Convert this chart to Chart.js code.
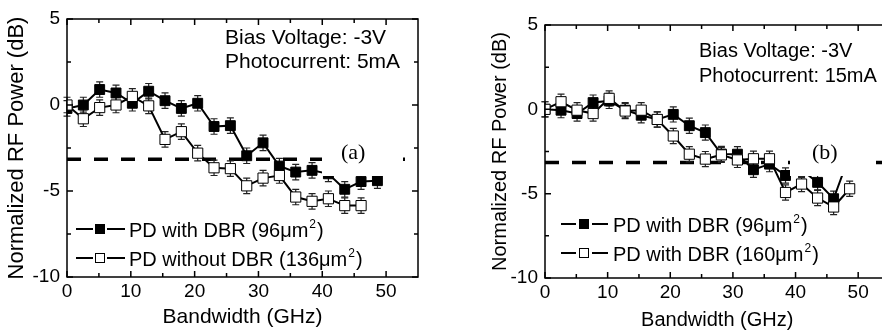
<!DOCTYPE html>
<html>
<head>
<meta charset="utf-8">
<script src="https://cdn.jsdelivr.net/npm/chart.js@4.4.0/dist/chart.umd.min.js"></script>
<style>
html, body { margin: 0; padding: 0; background: #fff; overflow: hidden; width: 882px; height: 332px; }
#wrapA { position: absolute; left: 0; top: 0; width: 441px; height: 332px; }
#wrapB { position: absolute; left: 441px; top: 0; width: 460px; height: 332px; }
</style>
</head>
<body>
<div id="wrapA"><canvas id="chartA" width="441" height="332"></canvas></div>
<div id="wrapB"><canvas id="chartB" width="460" height="332"></canvas></div>
<script>
// frequency points (GHz)
const xGHz = [0, 2.56, 5.12, 7.68, 10.24, 12.8, 15.36, 17.92, 20.48, 23.04, 25.6, 28.16, 30.72, 33.28, 35.84, 38.4, 40.96, 43.52, 46.08, 48.64];

// (a) 5mA
const aWithDBR96 = [-0.2, 0.0, 0.9, 0.7, 0.1, 0.8, 0.25, -0.2, 0.1, -1.25, -1.2, -2.95, -2.2, -3.55, -3.9, -3.8, -4.0, -4.9, -4.45, -4.4];
const aWithDBR96Err = [0.45, 0.45, 0.45, 0.45, 0.45, 0.45, 0.45, 0.45, 0.45, 0.45, 0.45, 0.45, 0.45, 0.45, 0.45, 0.45, 0.45, 0.45, 0.45, 0.45];
const aNoDBR136 = [0.0, -0.8, -0.15, 0.0, 0.5, -0.05, -2.0, -1.55, -2.8, -3.65, -3.7, -4.7, -4.25, -4.1, -5.35, -5.6, -5.45, -5.85, -5.85];
const aNoDBR136Err = [0.45, 0.45, 0.45, 0.45, 0.45, 0.45, 0.45, 0.45, 0.45, 0.45, 0.45, 0.45, 0.45, 0.45, 0.45, 0.45, 0.45, 0.45, 0.45];

// (b) 15mA
const bWithDBR96 = [0.0, -0.05, -0.25, 0.4, 0.5, -0.05, -0.35, -0.6, -0.3, -0.97, -1.38, -2.65, -2.66, -3.58, -3.25, -3.92, -3.6, -4.33, -5.3, -2.7];
const bWithDBR96Err = [0.45, 0.45, 0.45, 0.45, 0.45, 0.45, 0.45, 0.45, 0.45, 0.45, 0.45, 0.45, 0.45, 0.45, 0.45, 0.45, 0.45, 0.45, 0.45, 0.45];
const bWithDBR160 = [0.0, 0.45, -0.05, -0.25, 0.65, -0.1, -0.05, -0.6, -1.58, -2.66, -2.95, -2.7, -3.0, -2.93, -2.93, -4.93, -4.43, -5.26, -5.79, -4.71];
const bWithDBR160Err = [0.45, 0.45, 0.45, 0.45, 0.45, 0.45, 0.45, 0.45, 0.45, 0.45, 0.45, 0.45, 0.45, 0.45, 0.45, 0.45, 0.45, 0.45, 0.45, 0.45];

// axes
const xTicks = [0, 10, 20, 30, 40, 50];
const xMinorTicks = [5, 15, 25, 35, 45];
const yTicks = [-10, -5, 0, 5];
const yMinorTicks = [-7.5, -2.5, 2.5];
const cutoffDB = -3.15;

const sans = "'Liberation Sans', Arial, sans-serif";
const serif = "'Liberation Serif', 'Times New Roman', serif";

const toPts = (ys) => ys.map((y, i) => ({ x: xGHz[i], y: y }));

const decorPlugin = {
  id: 'decor',
  beforeDatasetsDraw(chart, args, o) {
    const ctx = chart.ctx, xs = chart.scales.x, ys = chart.scales.y, a = chart.chartArea;
    ctx.save();
    // -3dB dashed line
    ctx.strokeStyle = '#000';
    ctx.lineWidth = 3.5;
    ctx.setLineDash([14, 13]);
    ctx.beginPath();
    ctx.moveTo(a.left, ys.getPixelForValue(cutoffDB));
    ctx.lineTo(a.right, ys.getPixelForValue(cutoffDB));
    ctx.stroke();
    ctx.setLineDash([]);
    // error bars
    ctx.strokeStyle = '#222';
    ctx.lineWidth = 1.2;
    chart.data.datasets.forEach(ds => {
      ds.data.forEach((p, i) => {
        const e = ds.errors[i];
        const px = xs.getPixelForValue(p.x);
        const y1 = ys.getPixelForValue(p.y + e), y2 = ys.getPixelForValue(p.y - e);
        ctx.beginPath();
        ctx.moveTo(px, y1); ctx.lineTo(px, y2);
        ctx.moveTo(px - 3.5, y1); ctx.lineTo(px + 3.5, y1);
        ctx.moveTo(px - 3.5, y2); ctx.lineTo(px + 3.5, y2);
        ctx.stroke();
      });
    });
    ctx.restore();
  },
  afterDatasetsDraw(chart, args, o) {
    const ctx = chart.ctx, xs = chart.scales.x, ys = chart.scales.y, a = chart.chartArea;
    ctx.save();
    // white box behind the panel label
    ctx.fillStyle = '#fff';
    ctx.fillRect(o.box[0], o.box[1], o.box[2], o.box[3]);
    ctx.fillStyle = '#000';
    ctx.font = o.labelSize + 'px ' + serif;
    ctx.textBaseline = 'alphabetic';
    ctx.textAlign = 'left';
    ctx.fillText(o.panel, o.panelPos[0], o.panelPos[1]);

    // condition text
    ctx.font = o.textSize + 'px ' + sans;
    ctx.fillText(o.lines[0], o.textPos[0], o.textPos[1]);
    ctx.fillText(o.lines[1], o.textPos[0], o.textPos[1] + o.textGap);

    // legend
    o.legend.forEach((item, k) => {
      const ry = o.legRows[k];
      const L = o.legX;
      ctx.strokeStyle = '#000';
      ctx.lineWidth = 2;
      ctx.beginPath();
      ctx.moveTo(L[0], ry); ctx.lineTo(L[1], ry);
      ctx.moveTo(L[3], ry); ctx.lineTo(L[4], ry);
      ctx.stroke();
      ctx.lineWidth = 1;
      ctx.fillStyle = item.fill;
      ctx.fillRect(L[2] - 4.5, ry - 4.5, 9, 9);
      ctx.strokeRect(L[2] - 4.5, ry - 4.5, 9, 9);
      ctx.fillStyle = '#000';
      ctx.font = o.legSize + 'px ' + sans;
      let tx = L[5];
      const by = ry + 7.5;
      ctx.fillText(item.text, tx, by);
      tx += ctx.measureText(item.text).width;
      ctx.font = Math.round(o.legSize * 0.62) + 'px ' + sans;
      ctx.fillText('2', tx + 1, by - 9);
      tx += ctx.measureText('2').width + 1;
      ctx.font = o.legSize + 'px ' + sans;
      ctx.fillText(')', tx + 1, by);
    });

    // frame and inward ticks
    ctx.strokeStyle = '#000';
    ctx.lineWidth = 1.5;
    ctx.strokeRect(a.left, a.top, a.right - a.left, a.bottom - a.top);
    ctx.beginPath();
    const xt = (v, len) => {
      const px = xs.getPixelForValue(v);
      ctx.moveTo(px, a.bottom); ctx.lineTo(px, a.bottom - len);
      ctx.moveTo(px, a.top); ctx.lineTo(px, a.top + len);
    };
    const yt = (v, len) => {
      const py = ys.getPixelForValue(v);
      ctx.moveTo(a.left, py); ctx.lineTo(a.left + len, py);
      ctx.moveTo(a.right, py); ctx.lineTo(a.right - len, py);
    };
    xTicks.forEach(v => xt(v, 6));
    xMinorTicks.forEach(v => xt(v, 4));
    yTicks.forEach(v => yt(v, 6));
    yMinorTicks.forEach(v => yt(v, 4));
    ctx.stroke();
    ctx.restore();
  }
};

function buildChart(id, o) {
  return new Chart(document.getElementById(id), {
    type: 'line',
    plugins: [decorPlugin],
    data: {
      datasets: [
        {
          label: o.legend[0].text, data: toPts(o.filled), errors: o.filledErr,
          borderColor: '#000', borderWidth: 2, tension: 0,
          pointStyle: 'rect', pointRadius: 7, pointBorderWidth: 1,
          pointBackgroundColor: '#000', pointBorderColor: '#000', order: 2
        },
        {
          label: o.legend[1].text, data: toPts(o.open), errors: o.openErr,
          borderColor: '#000', borderWidth: 2, tension: 0,
          pointStyle: 'rect', pointRadius: 7.2, pointBorderWidth: 1,
          pointBackgroundColor: '#fff', pointBorderColor: '#000', order: 1
        }
      ]
    },
    options: {
      responsive: false,
      animation: false,
      devicePixelRatio: 1,
      layout: { padding: { left: 0, top: o.top, right: o.right, bottom: 0 } },
      plugins: { legend: { display: false }, tooltip: { enabled: false }, decor: o.decor },
      scales: {
        x: {
          type: 'linear', min: 0, max: 55,
          afterBuildTicks: s => { s.ticks = xTicks.map(v => ({ value: v })); },
          afterFit: s => { s.height = o.xHeight; },
          grid: { display: false, drawTicks: false }, border: { display: false },
          ticks: { color: '#000', font: { family: sans, size: o.tickSize }, padding: 3, maxRotation: 0, autoSkip: false },
          title: { display: true, text: 'Bandwidth (GHz)', color: '#000', font: { family: sans, size: o.xTitleSize }, padding: { top: 0, bottom: o.xTitlePad } }
        },
        y: {
          type: 'linear', min: -10, max: 5,
          afterBuildTicks: s => { s.ticks = yTicks.map(v => ({ value: v })); },
          afterFit: s => { s.width = o.yWidth; },
          grid: { display: false, drawTicks: false }, border: { display: false },
          ticks: { color: '#000', font: { family: sans, size: o.tickSize }, padding: 7 },
          title: { display: true, text: 'Normalized RF Power (dB)', color: '#000', font: { family: sans, size: o.yTitleSize }, padding: { top: o.yTitlePad, bottom: 0 } }
        }
      }
    }
  });
}

const legA = [
  { text: 'PD with DBR (96\u03bcm', fill: '#000' },
  { text: 'PD without DBR (136\u03bcm', fill: '#fff' }
];
const legB = [
  { text: 'PD with DBR (96\u03bcm', fill: '#000' },
  { text: 'PD with DBR (160\u03bcm', fill: '#fff' }
];

buildChart('chartA', {
  filled: aWithDBR96, filledErr: aWithDBR96Err, open: aNoDBR136, openErr: aNoDBR136Err,
  legend: legA, top: 19, right: 23, xHeight: 55, yWidth: 67,
  tickSize: 19, xTitleSize: 21, yTitleSize: 22, xTitlePad: 2, yTitlePad: 4,
  decor: {
    panel: '(a)', panelPos: [341, 159], labelSize: 22, box: [322, 135, 81, 41],
    lines: ['Bias Voltage: -3V', 'Photocurrent: 5mA'], textPos: [225, 44], textGap: 24, textSize: 21,
    legend: legA, legRows: [229, 258], legX: [76, 93, 100, 107, 125, 129], legSize: 20
  }
});

buildChart('chartB', {
  filled: bWithDBR96, filledErr: bWithDBR96Err, open: bWithDBR160, openErr: bWithDBR160Err,
  legend: legB, top: 25, right: 11.5, xHeight: 54, yWidth: 104,
  tickSize: 19, xTitleSize: 20, yTitleSize: 20, xTitlePad: 0, yTitlePad: 47,
  decor: {
    panel: '(b)', panelPos: [371, 158.5], labelSize: 22, box: [349, 135, 86, 41],
    lines: ['Bias Voltage: -3V', 'Photocurrent: 15mA'], textPos: [258, 57], textGap: 24.5, textSize: 20,
    legend: legB, legRows: [224, 253], legX: [120, 135, 143, 151, 167, 172], legSize: 20
  }
});
</script>
</body>
</html>
